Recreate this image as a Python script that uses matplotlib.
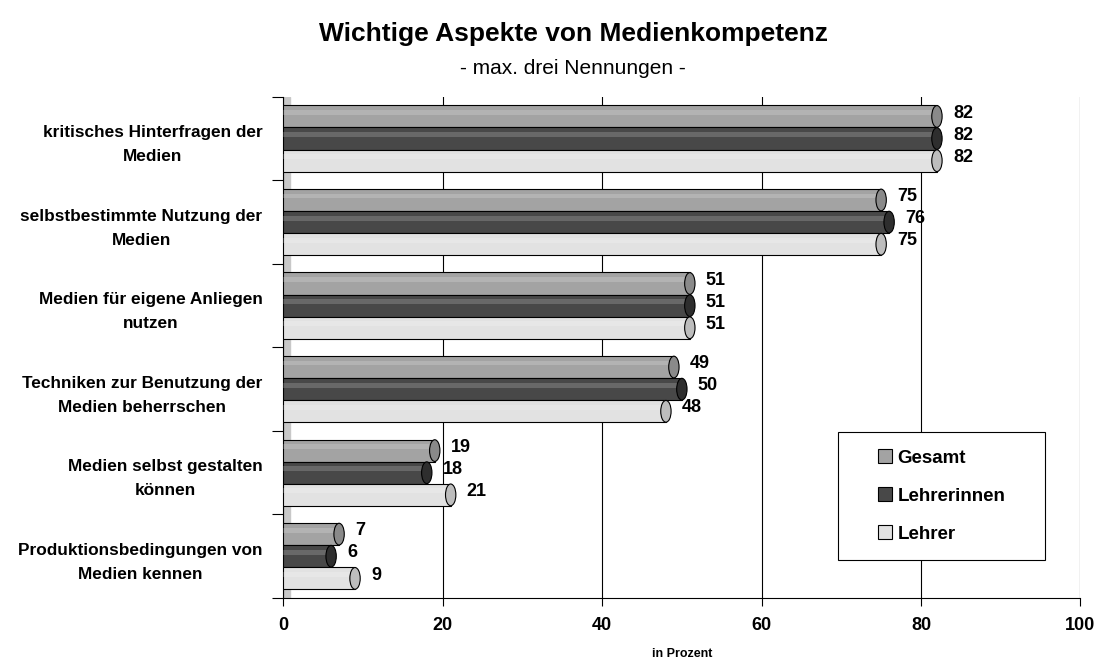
import matplotlib.pyplot as plt
from matplotlib.patches import Ellipse, Patch, Rectangle
import numpy as np

plt.rcParams['font.family'] = ['Liberation Sans', 'DejaVu Sans']

kategorien = ["kritisches Hinterfragen der\nMedien",
              "selbstbestimmte Nutzung der\nMedien",
              "Medien für eigene Anliegen\nnutzen",
              "Techniken zur Benutzung der\nMedien beherrschen",
              "Medien selbst gestalten\nkönnen",
              "Produktionsbedingungen von\nMedien kennen"]
gesamt = [82, 75, 51, 49, 19, 7]
lehrerinnen = [82, 76, 51, 50, 18, 6]
lehrer = [82, 75, 51, 48, 21, 9]

serien = ["Gesamt", "Lehrerinnen", "Lehrer"]
farben = ["#a3a3a3", "#484848", "#e2e2e2"]
kappen = ["#8a8a8a", "#2e2e2e", "#bdbdbd"]

fig = plt.figure(figsize=(10.98, 6.63), dpi=100)
ax = fig.add_axes([0.258, 0.098, 0.726, 0.756])

y = np.arange(len(kategorien))
h = 0.265
daten = [gesamt, lehrerinnen, lehrer]

for i, (werte, name) in enumerate(zip(daten, serien)):
    pos = y - h + i * h
    ax.barh(pos, werte, height=h, color=farben[i], edgecolor="black",
            linewidth=0.8, zorder=3, label=name)
    # hellerer Streifen fuer Zylinder-Effekt
    ax.barh(pos - h * 0.18, werte, height=h * 0.22, color="white",
            alpha=0.18, linewidth=0, zorder=4)
    for p, v in zip(pos, werte):
        ax.add_patch(Ellipse((v, p), width=1.3, height=h * 0.98,
                             facecolor=kappen[i], edgecolor="black",
                             linewidth=0.8, zorder=5))
        ax.text(v + 2.0, p - 0.04, str(v), va="center", ha="left",
                fontsize=13, fontweight="bold", zorder=6)

ax.set_xlim(0, 100)
ax.set_ylim(len(kategorien) - 0.5, -0.5)
ax.set_xticks([0, 20, 40, 60, 80, 100])
ax.set_xticklabels(["0", "20", "40", "60", "80", "100"],
                   fontsize=13, fontweight="bold")
ax.set_yticks(y)
ax.set_yticklabels(kategorien, fontsize=12.4, fontweight="bold",
                   multialignment="center", linespacing=1.75)
ax.set_yticks(np.arange(len(kategorien) + 1) - 0.5, minor=True)
ax.tick_params(axis="y", which="major", length=0, pad=15)
ax.tick_params(axis="y", which="minor", length=8, width=0.8)
ax.tick_params(axis="x", length=6, width=0.8, pad=8)

ax.grid(axis="x", color="black", linewidth=0.8, zorder=0)
ax.axvspan(0, 0.8, color="#c8c8c8", zorder=1)
for s in ["top", "right"]:
    ax.spines[s].set_visible(False)
ax.spines["left"].set_linewidth(0.8)
ax.spines["bottom"].set_linewidth(0.8)

ax.set_xlabel("in Prozent", fontsize=9, fontweight="bold", labelpad=10)

fig.text(0.522, 0.948, "Wichtige Aspekte von Medienkompetenz",
         ha="center", va="center", fontsize=19, fontweight="bold")
fig.text(0.522, 0.897, "- max. drei Nennungen -", ha="center",
         va="center", fontsize=15)

# Legendenrahmen
box = (0.7632, 0.1554, 0.1885, 0.1931)
fig.patches.append(Rectangle(box[:2], box[2], box[3], transform=fig.transFigure,
                             facecolor="white", edgecolor="black",
                             linewidth=0.8, zorder=9))
griffe = [Patch(facecolor=f, edgecolor="black", linewidth=0.8) for f in farben]
leg = fig.legend(griffe, serien, loc="center",
                 bbox_to_anchor=(box[0] + box[2] / 2, box[1] + box[3] / 2),
                 prop={"weight": "bold", "size": 13.5}, frameon=False,
                 labelspacing=1.1, handlelength=0.75, handleheight=0.75,
                 handletextpad=0.3, borderaxespad=0)
leg.set_zorder(10)

plt.savefig("out.png", dpi=100)
